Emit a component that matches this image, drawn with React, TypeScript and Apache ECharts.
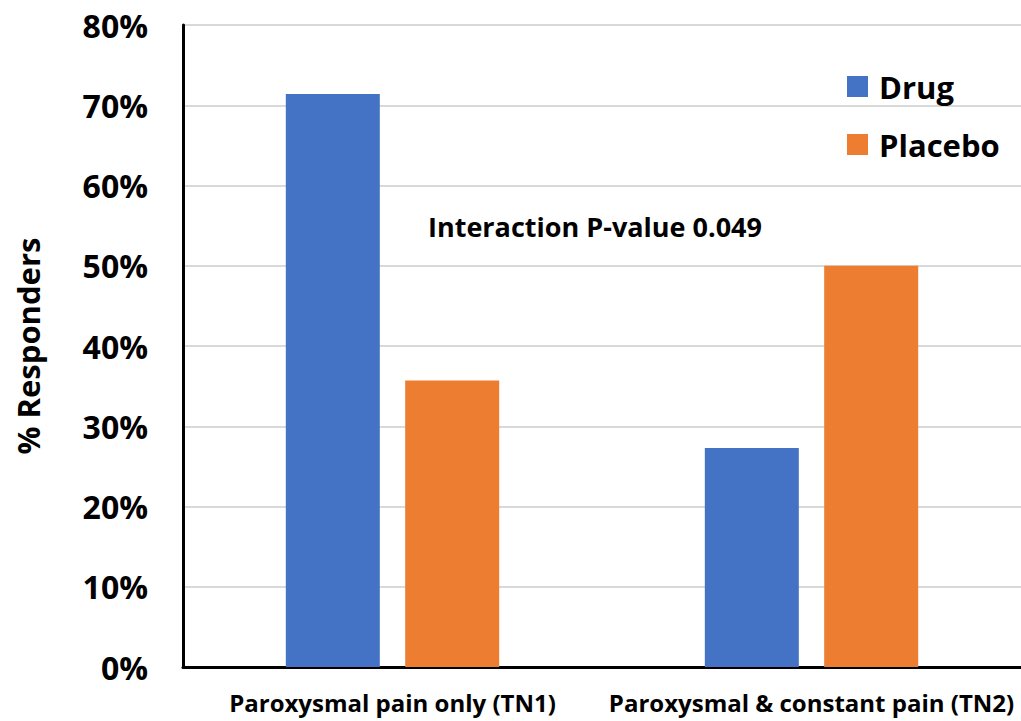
import React, { useEffect, useRef } from "react";
import * as echarts from "echarts";

const categories = ["Paroxysmal pain only (TN1)", "Paroxysmal & constant pain (TN2)"];
const drugValues = [71.4, 27.3];
const placeboValues = [35.7, 50.0];
const yTicks = [0, 10, 20, 30, 40, 50, 60, 70, 80];
const annotation = "Interaction P-value 0.049";
const FONT = "'Open Sans', 'Noto Sans', sans-serif";

export default function App() {
  const ref = useRef<HTMLDivElement>(null);
  useEffect(() => {
    const chart = echarts.init(ref.current!, null, { renderer: "svg" });
    chart.setOption({
      animation: false,
      textStyle: { fontFamily: FONT },
      grid: { left: 183, right: 0, top: 25, bottom: 54, containLabel: false },
      legend: {
        orient: "vertical",
        left: 847,
        top: 71,
        padding: 0,
        itemWidth: 21,
        itemHeight: 21,
        itemGap: 27,
        icon: "rect",
        textStyle: { fontSize: 31, fontWeight: "bold", color: "#000", fontFamily: FONT, padding: [0, 0, 0, 6] },
        data: ["Drug", "Placebo"],
      },
      xAxis: {
        type: "category",
        data: categories,
        axisLine: { lineStyle: { color: "#000", width: 3 } },
        axisTick: { show: false },
        axisLabel: { interval: 0, hideOverlap: false, fontSize: 24, fontWeight: "bold", color: "#000", margin: 23, fontFamily: FONT },
      },
      yAxis: {
        type: "value",
        min: yTicks[0],
        max: yTicks[yTicks.length - 1],
        interval: 10,
        name: "% Responders",
        nameLocation: "middle",
        nameGap: 140,
        nameTextStyle: { fontSize: 31, fontWeight: "bold", color: "#000", fontFamily: FONT },
        axisLine: { show: true, lineStyle: { color: "#000", width: 3 } },
        axisTick: { show: false },
        axisLabel: { formatter: "{value}%", fontSize: 32, fontWeight: "bold", color: "#000", margin: 35, fontFamily: FONT },
        splitLine: { lineStyle: { color: "#d9d9d9", width: 2 } },
      },
      series: [
        {
          name: "Drug",
          type: "bar",
          data: drugValues,
          barWidth: 94,
          barGap: "27%",
          itemStyle: { color: "#4472c4" },
        },
        {
          name: "Placebo",
          type: "bar",
          data: placeboValues,
          barWidth: 94,
          barGap: "27%",
          itemStyle: { color: "#ed7d31" },
        },
      ],
      graphic: [
        {
          type: "text",
          left: 428,
          top: 213,
          style: { text: annotation, fontSize: 27, fontWeight: "bold", fill: "#000", fontFamily: FONT },
        },
      ],
    });
    return () => chart.dispose();
  }, []);
  return <div ref={ref} style={{ width: 1021, height: 721, position: "absolute", left: 0, top: 0 }} />;
}
